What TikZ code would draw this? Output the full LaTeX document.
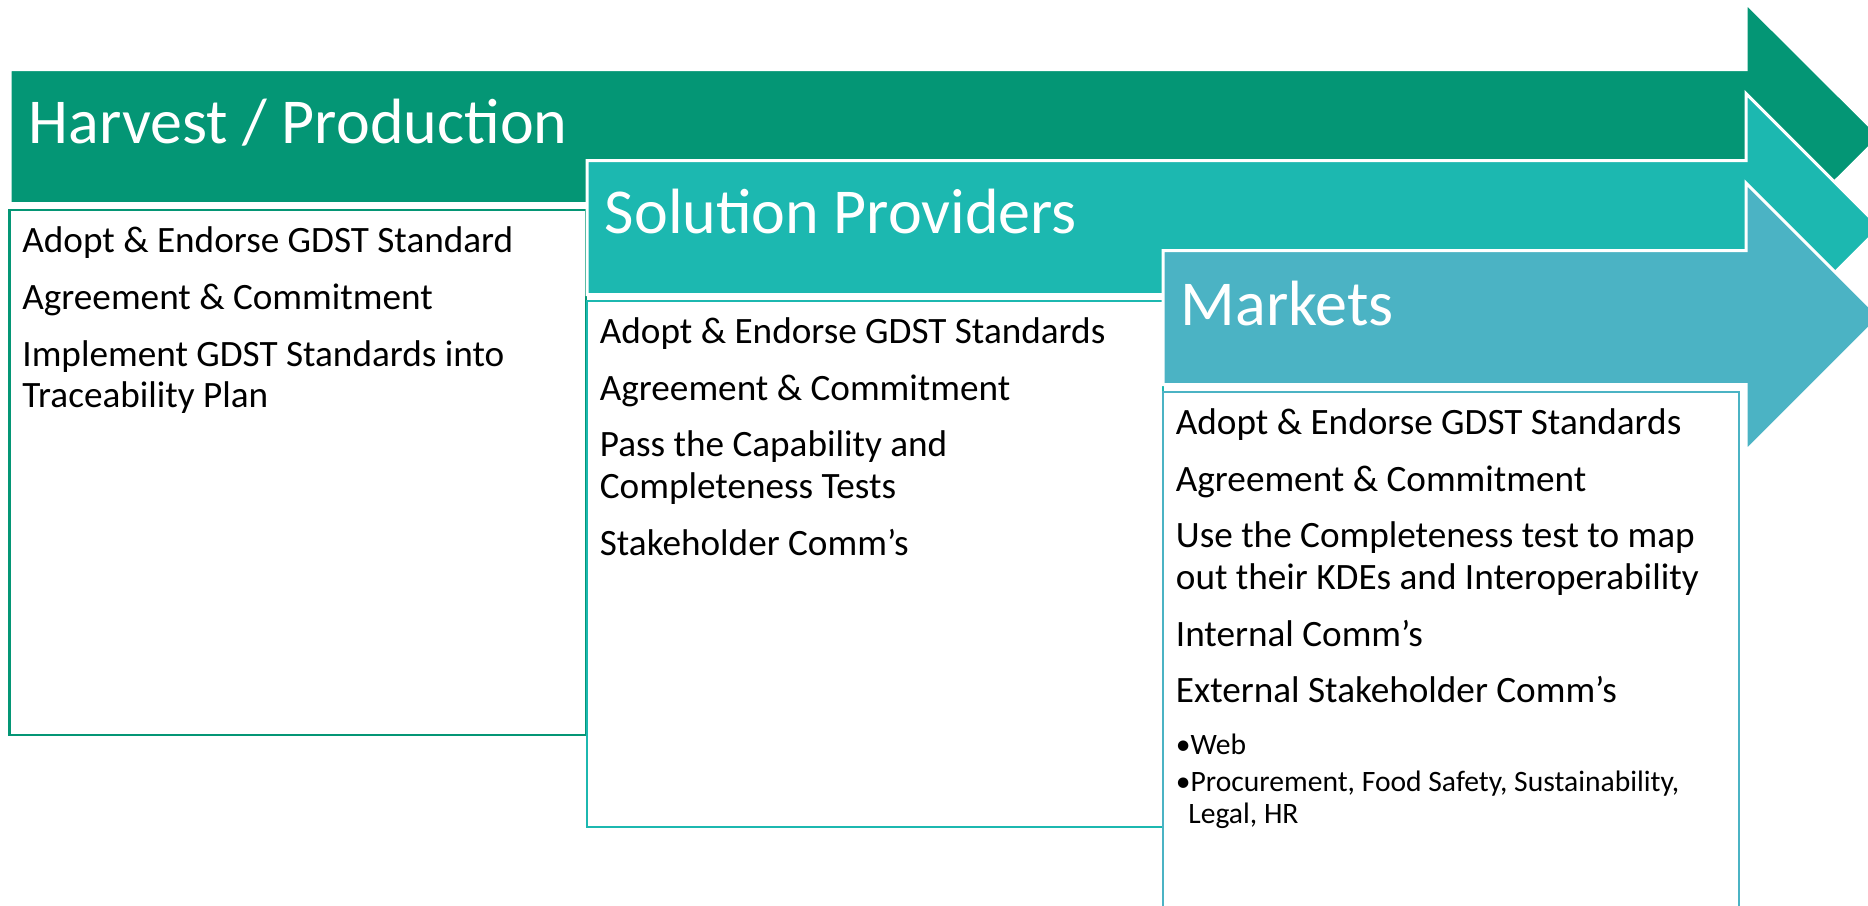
\documentclass[tikz,border=0pt]{standalone}
\usepackage{fontspec}
\setmainfont{Carlito}
\definecolor{harvestgreen}{RGB}{4,150,117}
\definecolor{providerteal}{RGB}{28,184,176}
\definecolor{marketblue}{RGB}{75,179,196}

\begin{document}
\begin{tikzpicture}[
x=0.5pt, y=-0.5pt,
  banner/.style={draw=white,line width=1.5pt},
  listbox/.style={fill=white,line width=1.2pt},
  title/.style={anchor=base west,inner sep=0pt,text=white,font=\fontsize{32}{38}\selectfont},
  item/.style={anchor=base west,inner sep=0pt,font=\fontsize{18.6}{22}\selectfont},
  subitem/.style={anchor=base west,inner sep=0pt,font=\fontsize{14.8}{17}\selectfont}
]
\clip (0,0) rectangle (1868,905);
% harvest / production
\path[banner,fill=harvestgreen] (10,69.5) -- (1746,69.5) -- (1746,3) -- (1880,136.5)
  -- (1746,270) -- (1746,203.5) -- (10,203.5) -- cycle;
\draw[listbox,draw=harvestgreen] (9.5,210) rectangle (586,735);
\node[title] (HT) at (28.5,143.3) {Harvest / Production};
\node[item] (H1) at (22,252.7) {Adopt \& Endorse GDST Standard};
\node[item] (H2) at (22,309.3) {Agreement \& Commitment};
\node[item] (H3) at (22,366) {Implement GDST Standards into};
\node[item] (H4) at (22,407.5) {Traceability Plan};
% solution providers
\path[banner,fill=providerteal] (587,160.5) -- (1746,160.5) -- (1746,93.5) -- (1880,227.5)
  -- (1746,361.5) -- (1746,294.5) -- (587,294.5) -- cycle;
\draw[listbox,draw=providerteal] (587,300.7) rectangle (1163,827);
\node[title] (ST) at (604.5,233) {Solution Providers};
\node[item] (S1) at (599.5,343.3) {Adopt \& Endorse GDST Standards};
\node[item] (S2) at (599.5,400) {Agreement \& Commitment};
\node[item] (S3) at (599.5,456.7) {Pass the Capability and};
\node[item] (S4) at (599.5,498.3) {Completeness Tests};
\node[item] (S5) at (599.5,555) {Stakeholder Comm’s};
% markets
\path[banner,fill=marketblue] (1163,250.5) -- (1746,250.5) -- (1746,183) -- (1880,317)
  -- (1746,451) -- (1746,384.5) -- (1163,384.5) -- cycle;
\draw[listbox,draw=marketblue] (1163,391.7) rectangle (1739,960);
\node[title] (MT) at (1180.5,325) {Markets};
\node[item] (M1) at (1175.5,434.3) {Adopt \& Endorse GDST Standards};
\node[item] (M2) at (1175.5,491) {Agreement \& Commitment};
\node[item] (M3) at (1175.5,547.7) {Use the Completeness test to map};
\node[item] (M4) at (1175.5,589.3) {out their KDEs and Interoperability};
\node[item] (M5) at (1175.5,646) {Internal Comm’s};
\node[item] (M6) at (1175.5,702.7) {External Stakeholder Comm’s};
\node[subitem] (M7) at (1175.5,754) {•Web};
\node[subitem] (M8) at (1175.5,791.5) {•Procurement, Food Safety, Sustainability,};
\node[subitem] (M9) at (1188,823.5) {Legal, HR};
\end{tikzpicture}
\end{document}
